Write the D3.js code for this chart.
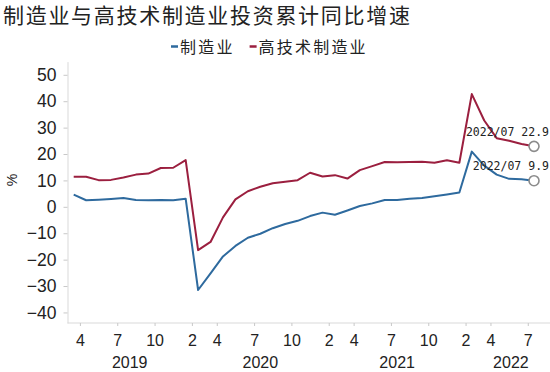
<!DOCTYPE html>
<html>
<head>
<meta charset="utf-8">
<script src="https://cdn.jsdelivr.net/npm/d3@7/dist/d3.min.js"></script>
<style>
  body { margin: 0; background: #ffffff; }
  .axis text { font-family: "Liberation Sans", Arial, sans-serif; fill: #222; }
</style>
</head>
<body>
<div id="chart"></div>
<script>
// 年份与各年月份（1月与2月合并，故无1月）
const years = ['2019', '2020', '2021', '2022'];
const yearMonths = [
  [3, 4, 5, 6, 7, 8, 9, 10, 11, 12],
  [2, 3, 4, 5, 6, 7, 8, 9, 10, 11, 12],
  [2, 3, 4, 5, 6, 7, 8, 9, 10, 11, 12],
  [2, 3, 4, 5, 6, 7],
];
// 制造业投资累计同比（2021年为两年平均）
const manufacturing = [
  4.6, 2.5, 2.7, 3.0, 3.3, 2.6, 2.5, 2.6, 2.5, 3.1,
  -31.5, -25.2, -18.8, -14.8, -11.7, -10.2, -8.1, -6.5, -5.3, -3.5, -2.2,
  -3.0, -1.4, 0.3, 1.3, 2.6, 2.6, 3.1, 3.3, 4.0, 4.7, 5.4,
  20.9, 15.6, 12.2, 10.6, 10.4, 9.9,
];
// 高技术制造业投资累计同比
const hiTech = [
  11.4, 11.4, 10.1, 10.2, 11.1, 12.2, 12.6, 14.7, 14.8, 17.7,
  -16.4, -13.3, -4.0, 2.8, 5.9, 7.6, 8.9, 9.5, 10.1, 12.9, 11.5,
  12.0, 10.7, 13.9, 15.4, 17.0, 16.9, 17.0, 17.1, 16.7, 17.6, 16.7,
  42.7, 32.7, 26.0, 25.0, 23.8, 22.9,
];
const tickMonths = [2, 4, 7, 10];
const yTicks = [50, 40, 30, 20, 10, 0, -10, -20, -30, -40];
const legendList = [
  { name: '制造业', color: '#2e6a9e' },
  { name: '高技术制造业', color: '#9b1f3f' },
];

const width = 550, height = 372;
const plot = { left: 67.5, right: 550, top: 61.6, bottom: 323 };

// 类目 key: 2019-03
const cats = [];
years.forEach((y, i) => yearMonths[i].forEach(m => cats.push({ key: `${y}-${m}`, year: y, month: m })));
const keys = cats.map(d => d.key);

const x = d3.scalePoint().domain(keys).range([73.7, 534]);
const step = x.step();
// 刻度位于数据点左侧半个间隔
const xTick = x.copy().range(x.range().map(v => v - step / 2));
const y = d3.scaleLinear().domain([-44, 55]).range([plot.bottom, plot.top]);

const svg = d3.select('#chart').append('svg')
  .attr('width', width).attr('height', height);

// 标题
svg.append('text')
  .attr('x', 3).attr('y', 23)
  .style('font-family', '"Noto Sans CJK SC", sans-serif')
  .style('font-size', '21px')
  .style('letter-spacing', '1.7px')
  .style('fill', '#222')
  .text('制造业与高技术制造业投资累计同比增速');

// 图例
const legend = svg.append('g').attr('class', 'legend');
let lx = 171;
legendList.forEach(d => {
  legend.append('line')
    .attr('x1', lx).attr('x2', lx + 7)
    .attr('y1', 46.5).attr('y2', 46.5)
    .attr('stroke', d.color).attr('stroke-width', 2.5);
  const t = legend.append('text')
    .attr('x', lx + 9).attr('y', 52.5)
    .style('font-family', '"Noto Sans CJK SC", sans-serif')
    .style('font-size', '16px')
    .style('letter-spacing', '2.2px')
    .style('fill', '#222')
    .text(d.name);
  lx += 9 + t.node().getComputedTextLength() + 15;
});

// y 轴
const yAxis = svg.append('g').attr('class', 'axis')
  .attr('transform', `translate(${plot.left},0)`)
  .call(d3.axisLeft(y).tickValues(yTicks).tickSize(4).tickSizeOuter(0).tickPadding(7));
yAxis.select('.domain').attr('stroke', '#d9d9d9');
yAxis.selectAll('.tick line').attr('stroke', '#c8c8c8');
yAxis.selectAll('.tick text').style('font-size', '17.5px');

svg.append('text')
  .attr('transform', `translate(17,180) rotate(-90)`)
  .attr('text-anchor', 'middle')
  .style('font-family', '"Liberation Sans", Arial, sans-serif')
  .style('font-size', '14px')
  .style('fill', '#222')
  .text('%');

// x 轴
svg.append('line')
  .attr('x1', plot.left).attr('x2', plot.right)
  .attr('y1', plot.bottom).attr('y2', plot.bottom)
  .attr('stroke', '#d9d9d9');
const xAxis = svg.append('g').attr('class', 'axis')
  .attr('transform', `translate(0,${plot.bottom})`)
  .call(d3.axisBottom(xTick)
    .tickValues(cats.filter(d => tickMonths.includes(d.month)).map(d => d.key))
    .tickFormat(k => k.split('-')[1])
    .tickSize(3).tickSizeOuter(0).tickPadding(9));
xAxis.select('.domain').remove();
xAxis.selectAll('.tick line').attr('stroke', '#c8c8c8');
xAxis.selectAll('.tick text').style('font-size', '16px');

// 年份标签
svg.append('g').selectAll('text')
  .data(years)
  .enter()
  .append('text')
  .attr('x', (yr, i) => {
    const ks = cats.filter(d => d.year === yr).map(d => d.key);
    const left = x(ks[0]);
    const right = i === years.length - 1 ? plot.right : x(ks[ks.length - 1]);
    return (left + right) / 2;
  })
  .attr('y', 368)
  .attr('text-anchor', 'middle')
  .style('font-family', '"Liberation Sans", Arial, sans-serif')
  .style('font-size', '16px')
  .style('fill', '#222')
  .text(d => d);

// 折线
const line = d3.line().x((d, i) => x(keys[i])).y(d => y(d));
const series = [
  { values: manufacturing, color: legendList[0].color },
  { values: hiTech, color: legendList[1].color },
];
svg.append('g').selectAll('path')
  .data(series)
  .enter()
  .append('path')
  .attr('d', d => line(d.values))
  .attr('fill', 'none')
  .attr('stroke', d => d.color)
  .attr('stroke-width', 2)
  .attr('stroke-linejoin', 'round');

// 末值标注
const lastKey = keys[keys.length - 1];
series.forEach(s => {
  const v = s.values[s.values.length - 1];
  const cy = y(v);
  svg.append('circle')
    .attr('cx', x(lastKey)).attr('cy', cy).attr('r', 5)
    .attr('fill', '#fff')
    .attr('stroke', '#8c8c8c').attr('stroke-width', 1.6);
  const [yy, mm] = lastKey.split('-');
  svg.append('text')
    .attr('x', 549).attr('y', cy - 10.5)
    .attr('text-anchor', 'end')
    .style('font-family', '"DejaVu Sans Mono", monospace')
    .style('font-size', '11.5px')
    .style('fill', '#222')
    .text(`${yy}/${String(mm).padStart(2, '0')} ${v.toFixed(1)}`);
});
</script>
</body>
</html>
